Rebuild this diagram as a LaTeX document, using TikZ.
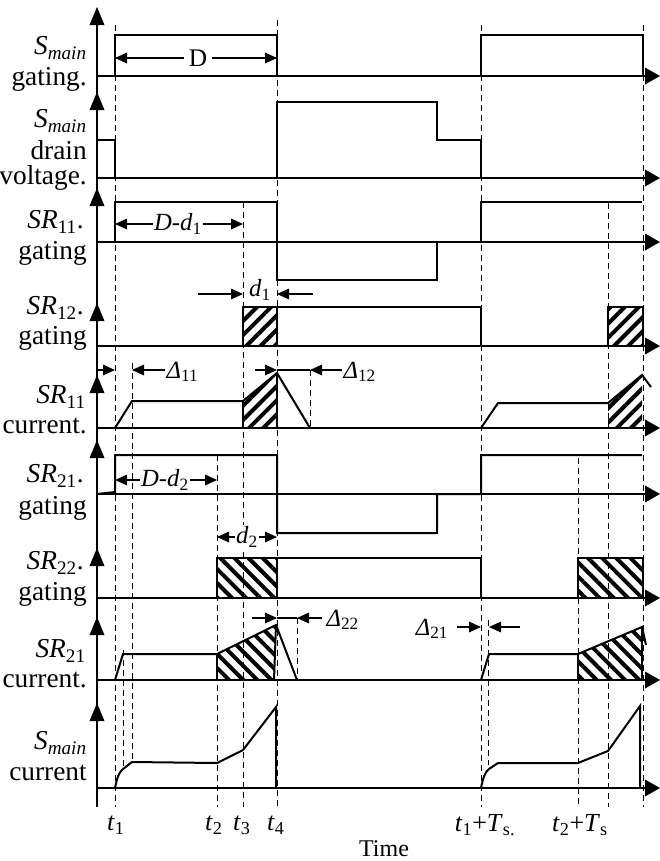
\documentclass[tikz,border=0pt]{standalone}
\usepackage{fontspec}
\setmainfont{Liberation Serif}
\usetikzlibrary{arrows.meta,patterns.meta}
\begin{document}
\begin{tikzpicture}[x=0.75pt,y=-0.75pt,
  wave/.style={line width=1.5pt,line join=miter},
  base/.style={line width=1.1pt},
  guide/.style={line width=0.6pt,dash pattern=on 4.5pt off 3pt},
  dim/.style={line width=0.8pt,-{Triangle[length=9pt,width=8pt]}},
  dimb/.style={line width=0.8pt,{Triangle[length=9pt,width=8pt]}-{Triangle[length=9pt,width=8pt]}},
  lbl/.style={anchor=east,font=\fontsize{20.5}{22}\selectfont,inner sep=0pt},
  ann/.style={font=\fontsize{18.5}{20}\selectfont,inner sep=1pt},
  tl/.style={font=\fontsize{19.5}{21}\selectfont,inner sep=0pt},
  hatchNE/.style={pattern={Lines[angle=45,distance=7.5pt,line width=3pt]}},
  hatchNW/.style={pattern={Lines[angle=-45,distance=7.5pt,line width=3pt]}},
]
\useasboundingbox (0,0) rectangle (660,861);

% ---------- dashed guide lines ----------
\draw[guide] (115,25) -- (115,807);
\draw[guide] (277,20) -- (277,807);
\draw[guide] (481,25) -- (481,807);
\draw[guide] (643,25) -- (643,807);
\draw[guide] (243,202) -- (243,807);
\draw[guide] (132,363) -- (132,762);
\draw[guide] (123,650) -- (123,770);
\draw[guide] (310,370) -- (310,428);
\draw[guide] (217,455) -- (217,807);
\draw[guide] (297,618) -- (297,680);
\draw[guide] (608,203) -- (608,807);
\draw[guide] (578,458) -- (578,807);
\draw[guide] (488,620) -- (488,765);

% ---------- vertical axis with up arrows ----------
\draw[base] (97,807) -- (97,10);
\foreach \t in {7,92,188,303,375,440,548,617,703}{
  \fill (97,\t) -- (89.5,\t+18) -- (104.5,\t+18) -- cycle;
}
% ---------- baselines with right arrows ----------
\foreach \b in {76,178,242,346,428,494,598,680,788}{
  \draw[base] (97,\b) -- (648,\b);
  \fill (660,\b) -- (645,\b-8.5) -- (645,\b+8.5) -- cycle;
}

% ---------- row 1: S_main gating ----------
\draw[wave] (115,76) -- (115,35) -- (277,35) -- (277,76);
\draw[wave] (481,76) -- (481,35) -- (643,35) -- (643,76);
\draw[dimb] (115,58) -- (277,58);
\node[ann,fill=white,inner xsep=4pt,font=\fontsize{19}{21}\selectfont] (D) at (198,58) {D};

% ---------- row 2: S_main drain voltage ----------
\draw[wave] (97,140) -- (115,140) -- (115,178);
\draw[wave] (277,178) -- (277,102) -- (437,102) -- (437,140) -- (481,140) -- (481,178);

% ---------- row 3: SR11 gating ----------
\draw[wave] (97,242) -- (115,242) -- (115,202) -- (277,202) -- (277,280) -- (437,280) -- (437,242) -- (481,242) -- (481,202) -- (642,202);
\draw[dimb] (115,224) -- (243,224);
\node[ann,fill=white] (Dd1) at (178,224) {\textit{D-d}\textsubscript{1}};

% ---------- row 4: SR12 gating ----------
\path[hatchNE] (243,307) rectangle (277,346);
\draw[wave] (243,346) -- (243,307) -- (277,307) -- (277,346);
\draw[wave] (277,307) -- (481,307) -- (481,346);
\path[hatchNE] (608,307) rectangle (643,346);
\draw[wave] (608,346) -- (608,307) -- (643,307) -- (643,346);
\draw[dim] (198,294) -- (243,294);
\draw[dim] (313,294) -- (277,294);
\node[ann] (d1) at (260,290) {\textit{d}\textsubscript{1}};

% ---------- row 5: SR11 current ----------
\path[hatchNE] (243,428) -- (243,401) -- (277,373) -- (277,428) -- cycle;
\draw[wave] (243,428) -- (243,401);
\draw[wave] (277,373) -- (277,428);
\draw[wave] (115,428) -- (132,401) -- (243,401) -- (277,373) -- (310,428);
\path[hatchNE] (608,428) -- (608,403) -- (642,375) -- (642,428) -- cycle;
\draw[wave] (481,428) -- (498,403) -- (608,403) -- (642,375) -- (651,387);
\draw[dim] (97,370) -- (115,370);
\draw[dim] (165,370) -- (132,370);
\node[ann,anchor=west] (D11) at (165,372) {\textit{Δ}\textsubscript{11}};
\draw[dim] (255,370) -- (277,370);
\draw[line width=0.8pt] (277,370) -- (310,370);
\draw[dim] (342,370) -- (310,370);
\node[ann,anchor=west] (D12) at (342,372) {\textit{Δ}\textsubscript{12}};

% ---------- row 6: SR21 gating ----------
\draw[wave] (97,494) -- (115,492) -- (115,455) -- (277,455) -- (277,533) -- (437,533) -- (437,494) -- (481,494) -- (481,455) -- (642,455);
\draw[dimb] (115,480) -- (217,480);
\node[ann,fill=white] (Dd2) at (165,480) {\textit{D-d}\textsubscript{2}};
\draw[dimb] (217,537) -- (277,537);
\node[ann,fill=white] (d2) at (247,537) {\textit{d}\textsubscript{2}};

% ---------- row 7: SR22 gating ----------
\path[hatchNW] (217,558) rectangle (277,598);
\draw[wave] (217,598) -- (217,558) -- (277,558) -- (277,598);
\draw[wave] (277,558) -- (481,558) -- (481,598);
\path[hatchNW] (578,558) rectangle (643,598);
\draw[wave] (578,598) -- (578,558) -- (643,558) -- (643,598);

% ---------- row 8: SR21 current ----------
\path[hatchNW] (217,680) -- (217,654) -- (276,625) -- (274,680) -- cycle;
\draw[wave] (217,680) -- (217,654);
\draw[wave] (276,625) -- (274,680);
\draw[wave] (115,680) -- (123,654) -- (217,654) -- (276,625) -- (297,680);
\path[hatchNW] (578,680) -- (578,654) -- (642,627) -- (642,680) -- cycle;
\draw[wave] (578,680) -- (578,654);
\draw[wave] (642,627) -- (642,680);
\draw[wave] (481,680) -- (489,654) -- (578,654) -- (642,627) -- (646,645);
\draw[dim] (252,618) -- (277,618);
\draw[line width=0.8pt] (277,618) -- (297,618);
\draw[dim] (322,618) -- (297,618);
\node[ann,anchor=west] (D22) at (325,620) {\textit{Δ}\textsubscript{22}};
\draw[dim] (457,627) -- (481,627);
\draw[dim] (520,627) -- (489,627);
\node[ann] (D21) at (432,629) {\textit{Δ}\textsubscript{21}};

% ---------- row 9: S_main current ----------
\draw[wave] (115,788) .. controls (117,778) and (119,772) .. (123,769) -- (132,762) -- (217,763) -- (243,750) -- (276,707) -- (276,788);
\draw[wave] (481,788) .. controls (483,778) and (485,772) .. (489,769) -- (498,763) -- (578,763) -- (608,751) -- (640,706) -- (640,788);

% ---------- row labels ----------
\node[lbl] (L1a) at (87,48) {\textit{S}\textsubscript{\textit{main}}};
\node[lbl] (L1b) at (87,79) {gating.};
\node[lbl] (L2a) at (87,121) {\textit{S}\textsubscript{\textit{main}}};
\node[lbl] (L2b) at (87,150) {drain};
\node[lbl] (L2c) at (87,178) {voltage.};
\node[lbl] (L3a) at (84,222) {\textit{SR}\textsubscript{11}.};
\node[lbl] (L3b) at (87,253) {gating};
\node[lbl] (L4a) at (84,308) {\textit{SR}\textsubscript{12}.};
\node[lbl] (L4b) at (87,338) {gating};
\node[lbl] (L5a) at (86,397) {\textit{SR}\textsubscript{11}};
\node[lbl] (L5b) at (87,426) {current.};
\node[lbl] (L6a) at (84,476) {\textit{SR}\textsubscript{21}.};
\node[lbl] (L6b) at (87,508) {gating};
\node[lbl] (L7a) at (84,563) {\textit{SR}\textsubscript{22}.};
\node[lbl] (L7b) at (87,594) {gating};
\node[lbl] (L8a) at (86,651) {\textit{SR}\textsubscript{21}};
\node[lbl] (L8b) at (87,680) {current.};
\node[lbl] (L9a) at (87,743) {\textit{S}\textsubscript{\textit{main}}};
\node[lbl] (L9b) at (87,773) {current};

% ---------- time labels ----------
\node[tl] (T1) at (116,825) {\textit{t}\textsubscript{1}};
\node[tl] (T2) at (214,825) {\textit{t}\textsubscript{2}};
\node[tl] (T3) at (242,825) {\textit{t}\textsubscript{3}};
\node[tl] (T4) at (276,825) {\textit{t}\textsubscript{4}};
\node[tl] (T5) at (485,825) {\textit{t}\textsubscript{1}+\textit{T}\textsubscript{s.}};
\node[tl] (T6) at (580,825) {\textit{t}\textsubscript{2}+\textit{T}\textsubscript{s}};
\node[tl,font=\fontsize{18}{20}\selectfont] (Time) at (384,849) {Time};
\end{tikzpicture}
\end{document}
